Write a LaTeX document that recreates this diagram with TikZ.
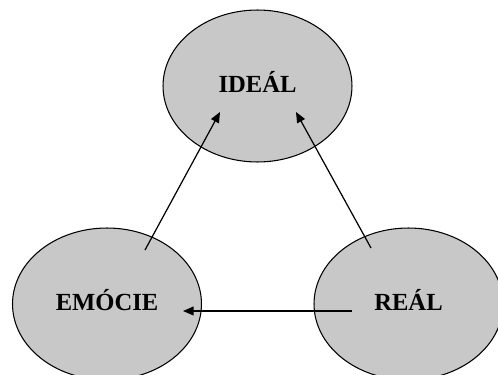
\documentclass[tikz,border=0pt]{standalone}
\usepackage{fontspec}
\setmainfont{Liberation Serif}
\usepackage{tikz}
\usetikzlibrary{arrows.meta, shapes.geometric}
\definecolor{ovalgray}{RGB}{200,200,200}

\begin{document}
\begin{tikzpicture}[x=0.02cm, y=-0.02cm,
  oval/.style={ellipse, draw=black, fill=ovalgray, line width=0.6pt,
               minimum width=3.78cm, minimum height=3.04cm, inner sep=0pt, outer sep=0pt,
               text depth=4.8pt, font=\fontsize{14}{16}\selectfont\bfseries},
  link/.style={line width=0.7pt, -{Triangle[length=6pt, width=5pt]}},
]
  \clip (0,0) rectangle (498,375);
  \def\xl{107}\def\xm{257.5}\def\xr{408.5}\def\yt{86}\def\yb{304}
  \node[oval] (ideal) at (\xm,\yt) {IDEÁL};
  \node[oval] (emo) at (\xl,\yb) {EMÓCIE};
  \node[oval] (real) at (\xr,\yb) {REÁL};
  \draw[link] ([shift={(38,-54)}]emo.center) -- ([shift={(-37.5,26)}]ideal.center);
  \draw[link] ([shift={(-37.5,-56)}]real.center) -- ([shift={(38.5,26)}]ideal.center);
  \draw[link] ([shift={(-56.5,7)}]real.center) -- ([shift={(76,7)}]emo.center);
\end{tikzpicture}
\end{document}
